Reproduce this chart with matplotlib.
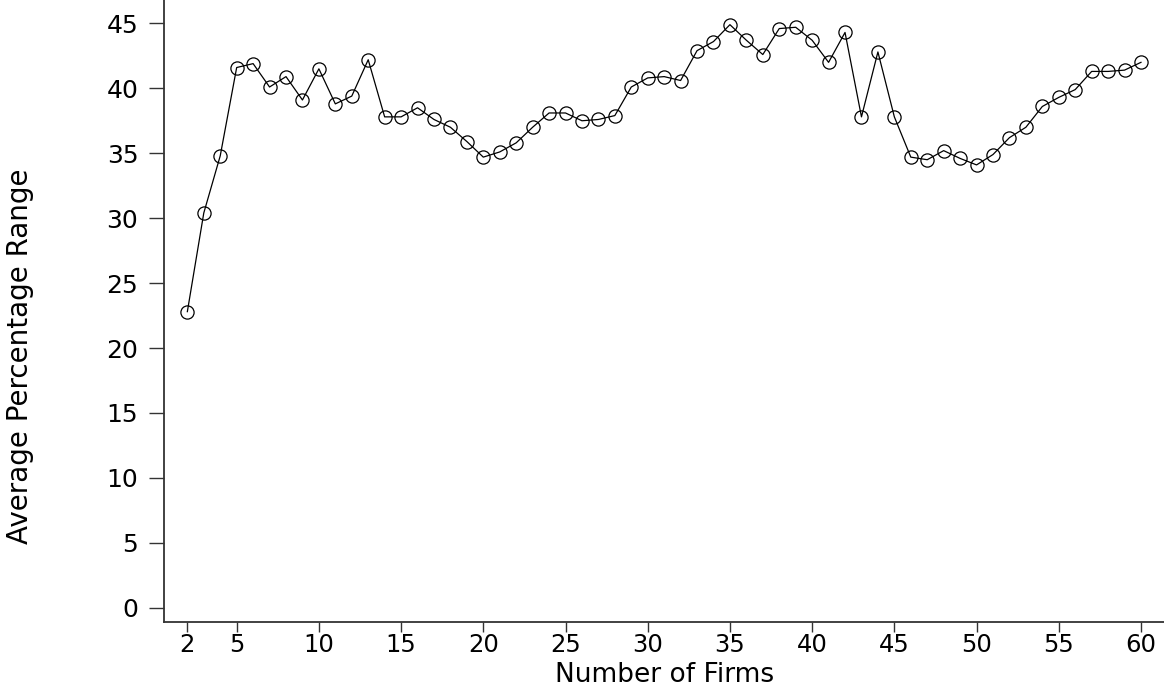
import matplotlib
matplotlib.use("Agg")
import matplotlib.pyplot as plt

firms = list(range(2, 61))
avg_range = [22.8, 30.4, 34.8, 41.6, 41.9, 40.1, 40.9, 39.1, 41.5, 38.8,
             39.4, 42.2, 37.8, 37.8, 38.5, 37.6, 37.0, 35.9, 34.7, 35.1,
             35.8, 37.0, 38.1, 38.1, 37.5, 37.6, 37.9, 40.1, 40.8, 40.9,
             40.6, 42.9, 43.6, 44.9, 43.7, 42.6, 44.6, 44.7, 43.7, 42.0,
             44.3, 37.8, 42.8, 37.8, 34.7, 34.5, 35.2, 34.6, 34.1, 34.9,
             36.2, 37.0, 38.6, 39.3, 39.9, 41.3, 41.3, 41.4, 42.0]
xticks = [2, 5, 10, 15, 20, 25, 30, 35, 40, 45, 50, 55, 60]
yticks = list(range(0, 50, 5))

plt.rcParams['font.family'] = ['DejaVu Sans']

W, H = 1164, 689
bottom_px = 622
fig = plt.figure(figsize=(W / 100, H / 100), dpi=100)
ax = fig.add_axes([164 / W, (H - bottom_px) / H, 1 - 164 / W,
                   1 - (H - bottom_px) / H])

ax.plot(firms, avg_range, color='black', linewidth=0.9,
        marker='o', markersize=9.5, markerfacecolor='none',
        markeredgecolor='black', markeredgewidth=0.9)

ax.set_xlim(0.58, 61.4)
ax.set_ylim(-1.1, 46.8)
ax.set_xticks(xticks)
ax.set_yticks(yticks)

for s in ['top', 'right']:
    ax.spines[s].set_visible(False)
for s in ['left', 'bottom']:
    ax.spines[s].set_color('#333333')
    ax.spines[s].set_linewidth(1.3)

ax.tick_params(axis='y', direction='out', length=10.5, width=1.0,
               color='#333333', labelsize=18, pad=8)
ax.tick_params(axis='x', direction='out', length=7.5, width=1.0,
               color='#333333', labelsize=17.5, pad=0.5)

fig.text(665 / W, 1 / H, 'Number of Firms', ha='center', va='bottom',
         fontsize=19)
fig.text(20 / W, 1 - 356 / H, 'Average Percentage Range', ha='center',
         va='center', rotation=90, fontsize=20)

fig.savefig('out.png', dpi=100)
